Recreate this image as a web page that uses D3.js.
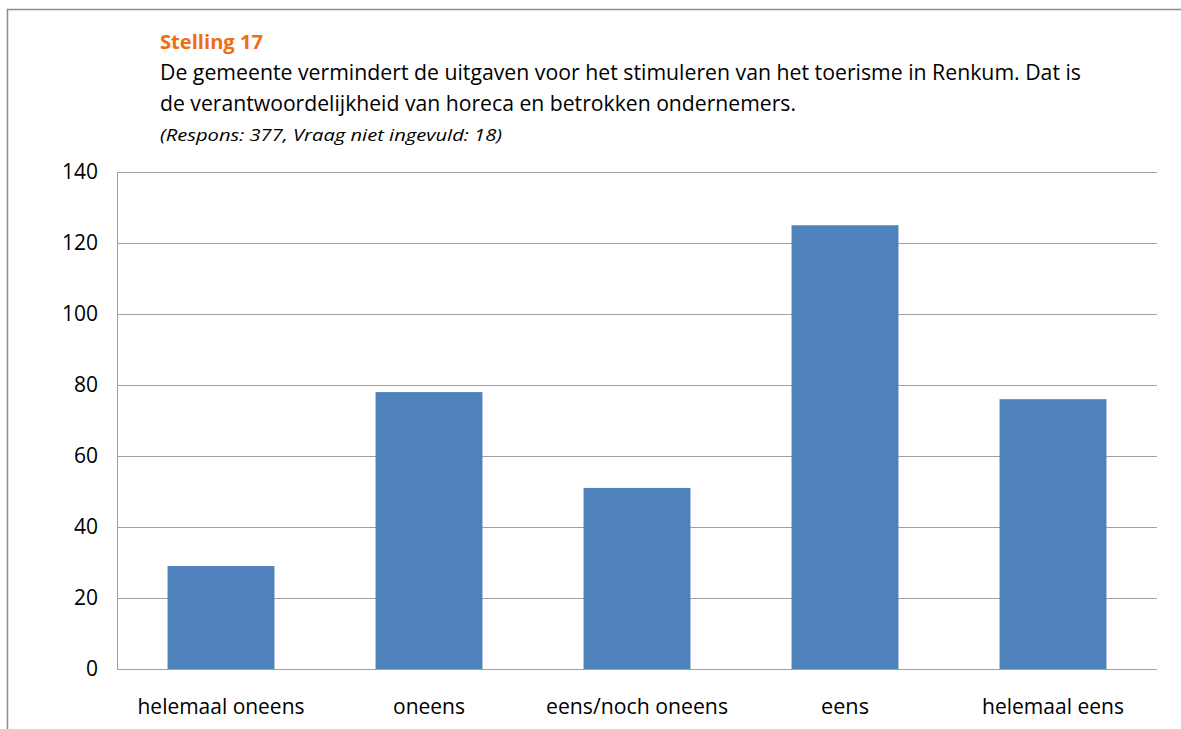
<!DOCTYPE html>
<html><head><meta charset="utf-8">
<script src="https://cdn.jsdelivr.net/npm/d3@7"></script>
<style>body{margin:0;background:#fff}svg{display:block}text{font-family:"Open Sans","Liberation Sans",sans-serif}</style>
</head><body>
<script>
const categories = ["helemaal oneens","oneens","eens/noch oneens","eens","helemaal eens"];
const values = [29, 78, 51, 125, 76];
const yTicks = [0,20,40,60,80,100,120,140];
const titleText = "Stelling 17";
const subtitleLines = ["De gemeente vermindert de uitgaven voor het stimuleren van het toerisme in Renkum. Dat is","de verantwoordelijkheid van horeca en betrokken ondernemers."];
const noteText = "(Respons: 377, Vraag niet ingevuld: 18)";

const W = 1181, H = 729;
const svg = d3.select("body").append("svg").attr("width", W).attr("height", H);

// outer frame
svg.append("path").attr("d", `M7.5,${H} L7.5,9.5 L${W},9.5`).attr("fill","none").attr("stroke","#8c8c8c").attr("stroke-width",1.5);

const m = {left:117, right:1157, top:172, bottom:669};
const x = d3.scaleBand().domain(categories).range([m.left, m.right]).paddingInner(0.486).paddingOuter(0.243);
const y = d3.scaleLinear().domain([0,140]).range([m.bottom, m.top]);

// gridlines
svg.append("g").selectAll("line").data(yTicks).join("line")
  .attr("x1", m.left).attr("x2", m.right)
  .attr("y1", d=>Math.round(y(d))+0.5).attr("y2", d=>Math.round(y(d))+0.5)
  .attr("stroke","#a0a0a0").attr("stroke-width",1);
// y axis line
svg.append("line").attr("x1",m.left+0.5).attr("x2",m.left+0.5).attr("y1",m.top).attr("y2",m.bottom)
  .attr("stroke","#a0a0a0");

// y labels
svg.append("g").selectAll("text").data(yTicks).join("text")
  .attr("x", 98).attr("y", d=>y(d)+7).attr("text-anchor","end")
  .attr("font-size",21).attr("fill","#000").text(d=>d);

// bars
svg.append("g").selectAll("rect").data(values).join("rect")
  .attr("x",(d,i)=>x(categories[i])).attr("width",x.bandwidth())
  .attr("y",d=>y(d)).attr("height",d=>y(0)-y(d)).attr("fill","#4f81bd");

// x labels
const xw = [167, 72, 182, 48, 142];
svg.append("g").selectAll("text").data(categories).join("text")
  .attr("x", d=>x(d)+x.bandwidth()/2).attr("y", 714).attr("text-anchor","middle")
  .attr("font-size",21).attr("fill","#000")
  .attr("textLength",(d,i)=>xw[i]).attr("lengthAdjust","spacingAndGlyphs").text(d=>d);

// titles
svg.append("text").attr("x",160).attr("y",49).attr("font-size",20).attr("font-weight","bold")
  .attr("fill","#f26d12").attr("textLength",103).attr("lengthAdjust","spacingAndGlyphs").text(titleText);
const sw = [921, 636];
svg.append("g").selectAll("text").data(subtitleLines).join("text")
  .attr("x",160).attr("y",(d,i)=>80+i*31).attr("font-size",21).attr("fill","#000")
  .attr("textLength",(d,i)=>sw[i]).attr("lengthAdjust","spacingAndGlyphs").text(d=>d);
svg.append("text").attr("x",160).attr("y",141).attr("font-size",17).attr("font-style","italic")
  .attr("fill","#000").attr("textLength",342).attr("lengthAdjust","spacingAndGlyphs").text(noteText);
</script>
</body></html>
